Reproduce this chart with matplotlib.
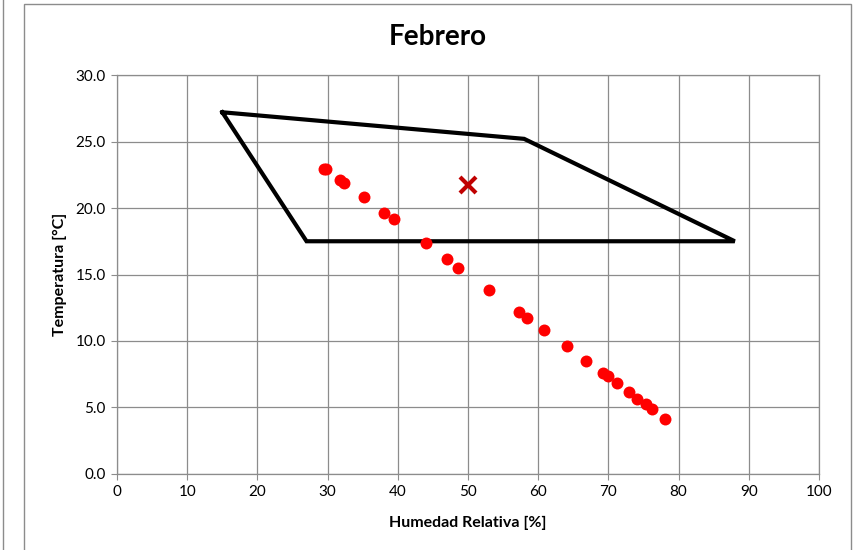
import matplotlib.pyplot as plt
from matplotlib.patches import Rectangle
from matplotlib.lines import Line2D

plt.rcParams['font.family'] = ['Lato', 'DejaVu Sans']

# comfort zone polygon (humidity %, temperature C)
zona_hr = [15, 58, 88, 27, 15]
zona_t = [27.2, 25.2, 17.5, 17.5, 27.2]

# monthly hourly points
hr = [29.5, 29.8, 31.8, 32.4, 35.2, 38.0, 39.4, 44.0, 47.0, 48.6, 53.0,
      57.2, 58.4, 60.9, 64.1, 66.8, 69.2, 69.9, 71.2, 72.9, 74.1, 75.3,
      76.2, 78.0]
temp = [22.95, 22.95, 22.1, 21.9, 20.8, 19.65, 19.2, 17.4, 16.2, 15.5, 13.8,
        12.2, 11.75, 10.85, 9.6, 8.5, 7.6, 7.35, 6.85, 6.2, 5.65, 5.3,
        4.9, 4.15]

# average point
prom_hr = [50.0]
prom_t = [21.7]

fig = plt.figure(figsize=(8.59, 5.50), dpi=100)
ax = fig.add_axes([0.1362, 0.1382, 0.8172, 0.7254])

ax.plot(zona_hr, zona_t, color='black', linewidth=3, solid_joinstyle='miter', zorder=3)
ax.plot(hr, temp, 'o', color='#FF0000', markersize=8.6, markeredgewidth=0, zorder=4)
ax.plot(prom_hr, prom_t, 'x', color='#C00000', markersize=11, markeredgewidth=3, zorder=5)

ax.set_xlim(0, 100)
ax.set_ylim(0, 30)
ax.set_xticks(range(0, 101, 10))
ax.set_yticks([0, 5, 10, 15, 20, 25, 30])
ax.set_yticklabels(['0.0', '5.0', '10.0', '15.0', '20.0', '25.0', '30.0'])
ax.grid(True, color='#8c8c8c', linewidth=0.9)
ax.set_axisbelow(True)
for s in ax.spines.values():
    s.set_color('#8c8c8c')
    s.set_linewidth(0.9)
ax.tick_params(direction='out', length=4, color='#8c8c8c', labelsize=11, pad=4)

fig.text(438 / 859, 1 - 37 / 550, 'Febrero', fontsize=20, fontweight='bold',
         ha='center', va='center')
ax.set_xlabel('Humedad Relativa [%]', fontsize=11.5, fontweight='bold', labelpad=12)
ax.set_ylabel('Temperatura [°C]', fontsize=11.5, fontweight='bold', labelpad=6)

# chart frame like the spreadsheet
fig.patches.append(Rectangle((24 / 859, -0.05), 827 / 859, 1.05 - 4 / 550,
                             transform=fig.transFigure, fill=False,
                             edgecolor='#8c8c8c', linewidth=1))
fig.lines.append(Line2D([2.5 / 859, 2.5 / 859], [0, 1], transform=fig.transFigure,
                        color='#8c8c8c', linewidth=1))

plt.savefig('out.png', dpi=100)
